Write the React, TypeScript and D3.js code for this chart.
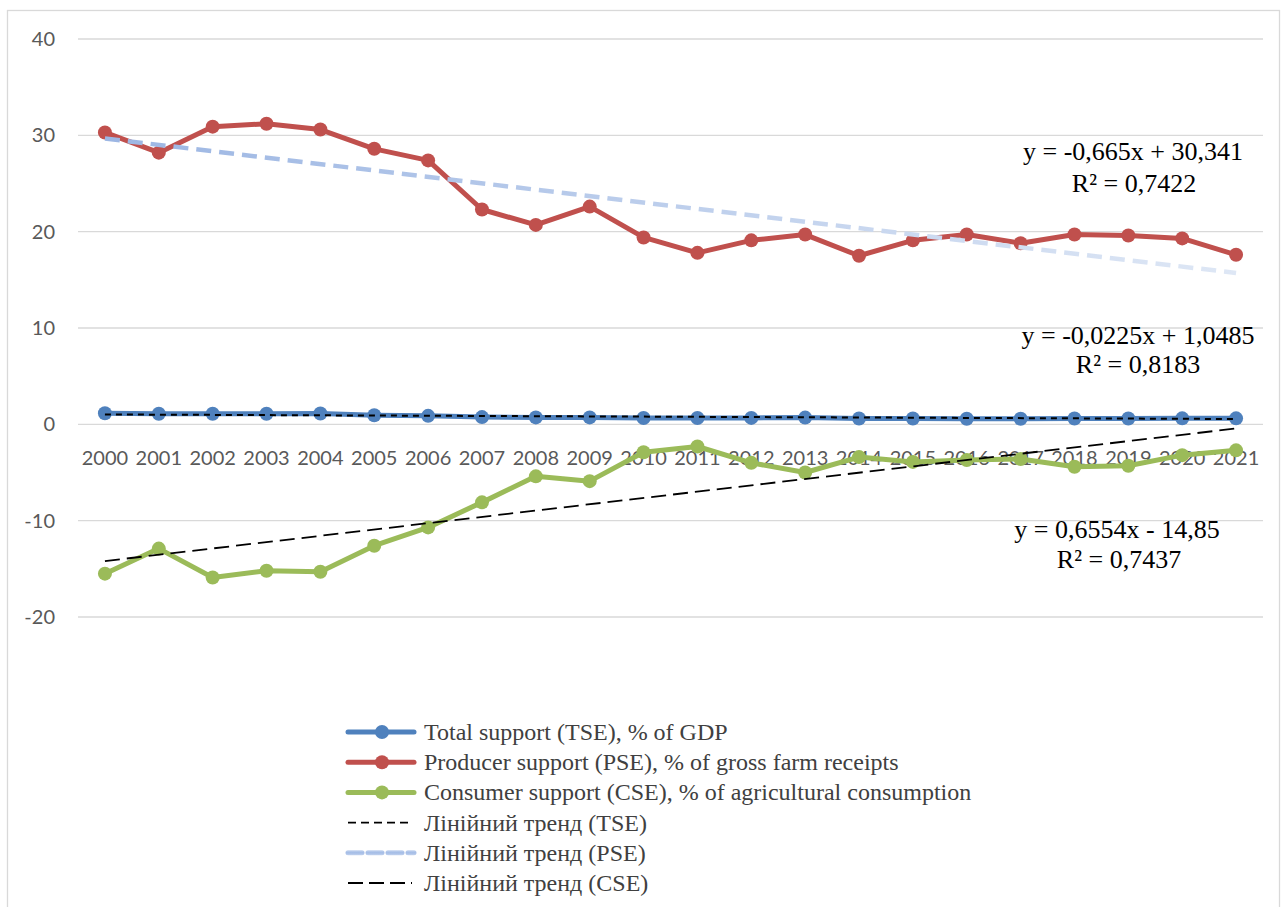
import { useEffect } from 'react'
import * as d3 from 'd3'

const YEARS = ['2000', '2001', '2002', '2003', '2004', '2005', '2006', '2007', '2008', '2009', '2010',
  '2011', '2012', '2013', '2014', '2015', '2016', '2017', '2018', '2019', '2020', '2021']

const TSE = [1.15, 1.1, 1.1, 1.1, 1.12, 0.95, 0.88, 0.75, 0.72, 0.72, 0.65, 0.65, 0.67, 0.7, 0.6, 0.6, 0.58, 0.58, 0.6, 0.6, 0.62, 0.62]
const PSE = [30.3, 28.2, 30.9, 31.2, 30.6, 28.6, 27.4, 22.3, 20.7, 22.6, 19.4, 17.8, 19.1, 19.7, 17.5, 19.1, 19.7, 18.8, 19.7, 19.6, 19.3, 17.6]
const CSE = [-15.5, -12.9, -15.9, -15.2, -15.3, -12.6, -10.7, -8.1, -5.4, -5.9, -2.9, -2.3, -4.0, -5.0, -3.4, -3.9, -3.7, -3.6, -4.4, -4.3, -3.2, -2.7]

// trend coefficients as printed on the chart (x = 1..22)
const TREND_SLOPE = { tse: -0.0225, pse: -0.665, cse: 0.6554 }
const TREND_INTERCEPT = { tse: 1.0485, pse: 30.341, cse: -14.85 }
const TREND_LABELS = {
  tse: ['y = -0,0225x + 1,0485', 'R² = 0,8183'],
  pse: ['y = -0,665x + 30,341', 'R² = 0,7422'],
  cse: ['y = 0,6554x - 14,85', 'R² = 0,7437'],
}

const Y_TICKS = [40, 30, 20, 10, 0, -10, -20]

const LEGEND = [
  'Total support (TSE), % of GDP',
  'Producer support (PSE), % of gross farm receipts',
  'Consumer support (CSE), % of agricultural consumption',
  'Лінійний тренд (TSE)',
  'Лінійний тренд (PSE)',
  'Лінійний тренд (CSE)',
]

const W = 1283, H = 907
const C_BLUE = '#4f81bd', C_RED = '#c0504d', C_GREEN = '#9bbb59'
const AXIS_FONT = 'Lato, "Noto Sans", sans-serif'
const SERIF = '"Liberation Serif", "Times New Roman", serif'

export default function App() {
  useEffect(() => {
    document.body.style.margin = '0'
  }, [])

  const x = d3.scaleBand<string>().domain(YEARS).range([78, 1263])
  const cx = (i: number) => (x(YEARS[i]) ?? 0) + x.bandwidth() / 2
  const y = d3.scaleLinear().domain([-20, 40]).range([617, 39])

  const line = d3.line<number>().x((_, i) => cx(i)).y(d => y(d))

  const trend = (k: 'tse' | 'pse' | 'cse') => {
    const f = (n: number) => TREND_SLOPE[k] * n + TREND_INTERCEPT[k]
    return `M${cx(0)},${y(f(1))}L${cx(YEARS.length - 1)},${y(f(YEARS.length))}`
  }

  const series = [
    { data: PSE, color: C_RED },
    { data: TSE, color: C_BLUE },
    { data: CSE, color: C_GREEN },
  ]

  const legendY = (i: number) => 732 + i * 30.2

  return (
    <svg width={W} height={H} style={{ position: 'fixed', left: 0, top: 0, background: '#fff' }}>
      <defs>
        <linearGradient id="pseTrend" gradientUnits="userSpaceOnUse" x1={cx(0)} x2={cx(21)} y1="0" y2="0">
          <stop offset="0%" stopColor="#9cb6e3" />
          <stop offset="100%" stopColor="#dee7f5" />
        </linearGradient>
        <linearGradient id="pseLegend" gradientUnits="userSpaceOnUse" x1="0" x2="0" y1={legendY(4) - 3} y2={legendY(4) + 3}>
          <stop offset="0%" stopColor="#c9d7f0" />
          <stop offset="50%" stopColor="#a3bce6" />
          <stop offset="100%" stopColor="#c9d7f0" />
        </linearGradient>
      </defs>
      <rect x={7.5} y={10.5} width={1272} height={910} fill="#fff" stroke="#d9d9d9" strokeWidth={1.3} />

      {Y_TICKS.map(t => (
        <g key={t}>
          <line x1={78} x2={1263} y1={y(t)} y2={y(t)} stroke="#d9d9d9" strokeWidth={1.3} />
          <text x={55} y={y(t) + 7} textAnchor="end" fill="#595959" fontSize={20} fontFamily={AXIS_FONT}>{t}</text>
        </g>
      ))}

      {YEARS.map((yr, i) => (
        <text key={yr} x={cx(i)} y={465} textAnchor="middle" fill="#595959" fontSize={20} fontFamily={AXIS_FONT}>{yr}</text>
      ))}

      {series.map((s, si) => (
        <g key={si}>
          <path d={line(s.data) ?? ''} fill="none" stroke={s.color} strokeWidth={5} strokeLinejoin="round" />
          {s.data.map((v, i) => <circle key={i} cx={cx(i)} cy={y(v)} r={7} fill={s.color} />)}
        </g>
      ))}

      <path d={trend('pse')} fill="none" stroke="url(#pseTrend)" strokeWidth={4.5} strokeDasharray="15 8" />
      <path d={trend('tse')} fill="none" stroke="#000" strokeWidth={2} strokeDasharray="6 5" />
      <path d={trend('cse')} fill="none" stroke="#000" strokeWidth={1.8} strokeDasharray="15 7" />

      <g fontFamily={SERIF} fontSize={26} fill="#000" textAnchor="middle">
        <text x={1133} y={160}>{TREND_LABELS.pse[0]}</text>
        <text x={1134} y={192}>{TREND_LABELS.pse[1]}</text>
        <text x={1138} y={344}>{TREND_LABELS.tse[0]}</text>
        <text x={1138} y={373}>{TREND_LABELS.tse[1]}</text>
        <text x={1117} y={538}>{TREND_LABELS.cse[0]}</text>
        <text x={1119} y={568}>{TREND_LABELS.cse[1]}</text>
      </g>

      {LEGEND.map((lab, i) => {
        const ly = legendY(i)
        let sample
        if (i < 3) {
          const c = [C_BLUE, C_RED, C_GREEN][i]
          sample = (
            <g>
              <line x1={348} x2={414} y1={ly} y2={ly} stroke={c} strokeWidth={5} strokeLinecap="round" />
              <circle cx={382} cy={ly} r={7} fill={c} />
            </g>
          )
        } else if (i === 3) {
          sample = <line x1={348} x2={410} y1={ly} y2={ly} stroke="#000" strokeWidth={1.6} strokeDasharray="8 5" />
        } else if (i === 4) {
          sample = <line x1={348} x2={414} y1={ly} y2={ly} stroke="url(#pseLegend)" strokeWidth={5} strokeDasharray="14 6" strokeLinecap="round" />
        } else {
          sample = <line x1={348} x2={412} y1={ly} y2={ly} stroke="#000" strokeWidth={1.8} strokeDasharray="15 6" />
        }
        return (
          <g key={lab}>
            {sample}
            <text x={424} y={ly + 8} fill="#404040" fontSize={24} fontFamily={SERIF}>{lab}</text>
          </g>
        )
      })}
    </svg>
  )
}
